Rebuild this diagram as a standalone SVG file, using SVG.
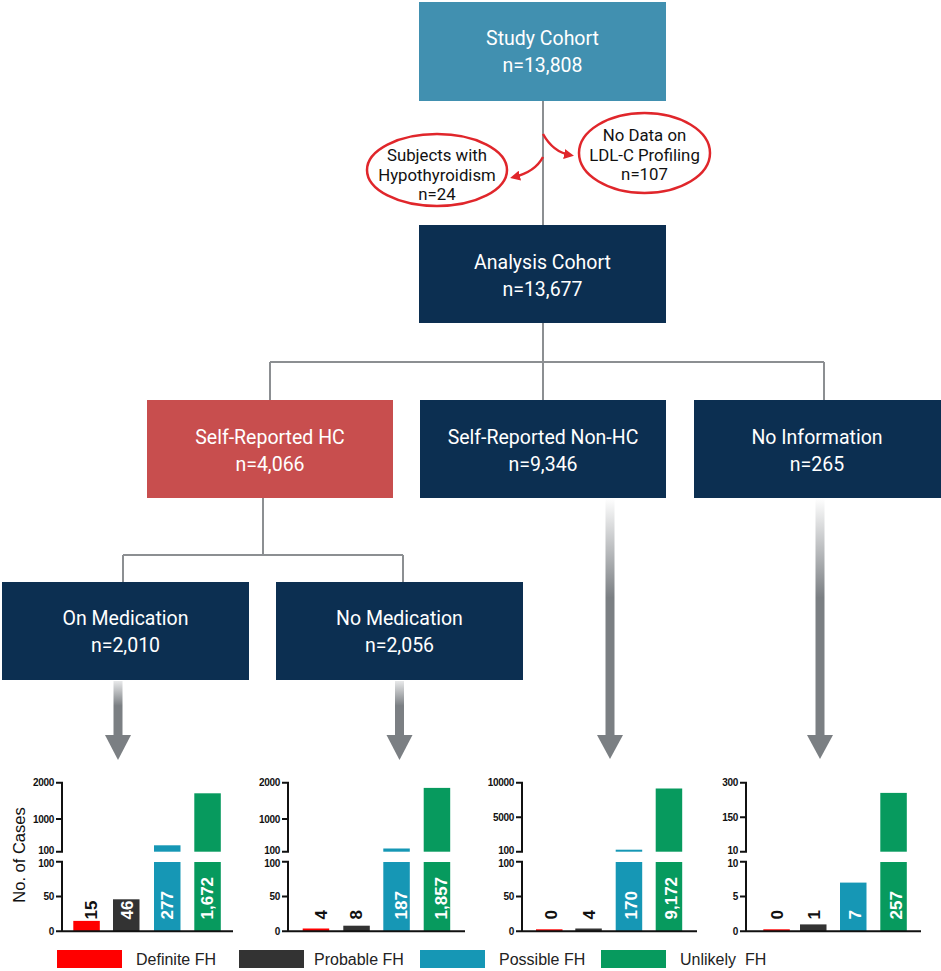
<svg xmlns="http://www.w3.org/2000/svg" width="941" height="971" viewBox="0 0 941 971">
<defs>
<style>
.box text{font-family:Roboto,"Liberation Sans",sans-serif;font-size:19.5px;fill:#fff;text-anchor:middle}
.ell text{font-family:Roboto,"Liberation Sans",sans-serif;font-size:16.8px;fill:#111;text-anchor:middle}
.ell ellipse{fill:#fff;stroke:#e0262b;stroke-width:2.5}
.conn{fill:none;stroke:#8c8f92;stroke-width:2}
.red-arrow{fill:none;stroke:#e0262b;stroke-width:2.5}
.head{fill:#7b7f83}
.ax{stroke:#111;stroke-width:2;fill:none}
.tk{font-family:"Liberation Sans",Arial,sans-serif;font-size:10px;font-weight:bold;fill:#111;text-anchor:end;letter-spacing:-0.3px}
.bl{font-family:"Liberation Sans",Arial,sans-serif;font-size:17px;font-weight:bold}
.w{fill:#fff}.k{fill:#111}
.cR{fill:#ff0000}.cK{fill:#333333}.cT{fill:#1697b5}.cG{fill:#079a5e}
.lg{font-family:"Liberation Sans",Arial,sans-serif;font-size:16px;fill:#222}
.navy{fill:#0c2f51}
</style>
<linearGradient id="gLong" x1="0" y1="0" x2="0" y2="1">
<stop offset="0" stop-color="#ffffff"/>
<stop offset="0.42" stop-color="#7b7f83"/>
<stop offset="1" stop-color="#7b7f83"/>
</linearGradient>
<linearGradient id="gShort" x1="0" y1="0" x2="0" y2="1">
<stop offset="0" stop-color="#e8e9ea"/>
<stop offset="0.45" stop-color="#7b7f83"/>
<stop offset="1" stop-color="#7b7f83"/>
</linearGradient>
<marker id="rh" markerWidth="10" markerHeight="10" refX="6" refY="5" orient="auto" markerUnits="userSpaceOnUse" viewBox="0 0 10 10">
<path d="M0,0 L10,5 L0,10 Z" fill="#e0262b"/>
</marker>
</defs>
<rect width="941" height="971" fill="#fff"/>

<g id="connectors">
<path class="conn" d="M543,101 V225"/>
<path class="conn" d="M543,323 V362 M270,362 H824 M270,362 V400 M543,362 V400 M824,362 V400"/>
<path class="conn" d="M263,498 V555 M123,555 H403 M123,555 V583 M403,555 V583"/>
<path class="red-arrow" d="M543,134 Q553,152 570,155" marker-end="url(#rh)"/>
<path class="red-arrow" d="M543,157 Q535,172 514,177" marker-end="url(#rh)"/>
<rect x="605.5" y="498" width="9" height="237" fill="url(#gLong)"/>
<polygon class="head" points="597,735 623,735 610,759"/>
<rect x="815.5" y="498" width="9" height="237" fill="url(#gLong)"/>
<polygon class="head" points="807,735 833,735 820,759"/>
<rect x="113.5" y="681" width="9" height="55" fill="url(#gShort)"/>
<polygon class="head" points="105,735 131,735 118,760"/>
<rect x="395" y="681" width="9" height="55" fill="url(#gShort)"/>
<polygon class="head" points="386.5,735 412.5,735 399.5,760"/>
</g>

<g id="study" class="box"><rect x="419" y="2" width="247" height="99" fill="#4190b0"/><text x="542.5" y="45">Study Cohort</text><text x="542.5" y="72">n=13,808</text></g>
<g id="hypo" class="ell"><ellipse cx="437" cy="170" rx="70" ry="36"/><text x="437" y="161">Subjects with</text><text x="437" y="180.5">Hypothyroidism</text><text x="437" y="200">n=24</text></g>
<g id="nodata" class="ell"><ellipse cx="644.5" cy="153" rx="65.5" ry="40"/><text x="644.5" y="141">No Data on</text><text x="644.5" y="160.5">LDL-C Profiling</text><text x="644.5" y="180">n=107</text></g>
<g id="analysis" class="box"><rect x="419" y="225" width="247" height="98" class="navy"/><text x="542.5" y="268.5">Analysis Cohort</text><text x="542.5" y="295.5">n=13,677</text></g>
<g id="hc" class="box"><rect x="147" y="400" width="246" height="98" fill="#c84e4e"/><text x="270" y="443.5">Self-Reported HC</text><text x="270" y="470.5">n=4,066</text></g>
<g id="nonhc" class="box"><rect x="420" y="400" width="246" height="98" class="navy"/><text x="543" y="443.5">Self-Reported Non-HC</text><text x="543" y="470.5">n=9,346</text></g>
<g id="noinfo" class="box"><rect x="694" y="400" width="247" height="98" class="navy"/><text x="817" y="443.5">No Information</text><text x="817" y="470.5">n=265</text></g>
<g id="onmed" class="box"><rect x="2" y="582" width="247" height="98" class="navy"/><text x="125.5" y="625">On Medication</text><text x="125.5" y="652">n=2,010</text></g>
<g id="nomed" class="box"><rect x="276" y="582" width="247" height="98" class="navy"/><text x="399.5" y="625">No Medication</text><text x="399.5" y="652">n=2,056</text></g>

<g id="chart1">
<text transform="translate(25,855) rotate(-90)" text-anchor="middle" font-family="'Liberation Sans',Arial,sans-serif" font-size="16.5" fill="#111">No. of Cases</text>
<rect class="cR" x="73.3" y="920.9" width="26.5" height="10.4"/>
<rect class="cK" x="113" y="899.3" width="26.5" height="32"/>
<rect class="cT" x="154" y="862" width="26.5" height="69.3"/>
<rect class="cT" x="154" y="845.3" width="26.5" height="6.4"/>
<rect class="cG" x="194.3" y="862" width="26.5" height="69.3"/>
<rect class="cG" x="194.3" y="793.3" width="26.5" height="58.4"/>
<path class="ax" d="M56,782.7 H62 V851.7 H56 M56,861.7 H62 V931.3 M56,819 H62 M56,896.5 H62 M56,931.3 H233"/>
<text class="tk" x="54" y="786.2">2000</text><text class="tk" x="54" y="822.5">1000</text><text class="tk" x="54" y="854">100</text>
<text class="tk" x="54" y="866.5">100</text><text class="tk" x="54" y="900">50</text><text class="tk" x="54" y="934.8">0</text>
<text class="bl k" transform="translate(96.7,919.5) rotate(-90)">15</text>
<text class="bl w" transform="translate(133.3,919.5) rotate(-90)">46</text>
<text class="bl w" transform="translate(173,919.5) rotate(-90)">277</text>
<text class="bl w" transform="translate(213.3,919.5) rotate(-90)">1,672</text>
</g>

<g id="chart2">
<rect class="cR" x="302.7" y="928.5" width="26.5" height="2.8"/>
<rect class="cK" x="343.3" y="925.7" width="26.5" height="5.6"/>
<rect class="cT" x="383.3" y="862" width="26.5" height="69.3"/>
<rect class="cT" x="383.3" y="848.5" width="26.5" height="3.2"/>
<rect class="cG" x="423.7" y="862" width="26.5" height="69.3"/>
<rect class="cG" x="423.7" y="787.9" width="26.5" height="63.8"/>
<path class="ax" d="M282,782.7 H288 V851.7 H282 M282,861.7 H288 V931.3 M282,819 H288 M282,896.5 H288 M282,931.3 H465"/>
<text class="tk" x="280" y="786.2">2000</text><text class="tk" x="280" y="822.5">1000</text><text class="tk" x="280" y="854">100</text>
<text class="tk" x="280" y="866.5">100</text><text class="tk" x="280" y="900">50</text><text class="tk" x="280" y="934.8">0</text>
<text class="bl k" transform="translate(326.7,919.5) rotate(-90)">4</text>
<text class="bl k" transform="translate(361.7,919.5) rotate(-90)">8</text>
<text class="bl w" transform="translate(406.7,919.5) rotate(-90)">187</text>
<text class="bl w" transform="translate(446.7,919.5) rotate(-90)">1,857</text>
</g>

<g id="chart3">
<rect class="cR" x="536" y="929.3" width="26.5" height="2"/>
<rect class="cK" x="575.3" y="928.5" width="26.5" height="2.8"/>
<rect class="cT" x="615.7" y="862" width="26.5" height="69.3"/>
<rect class="cT" x="615.7" y="849.7" width="26.5" height="2"/>
<rect class="cG" x="655.7" y="862" width="26.5" height="69.3"/>
<rect class="cG" x="655.7" y="788.5" width="26.5" height="63.2"/>
<path class="ax" d="M516,782.7 H522 V851.7 H516 M516,861.7 H522 V931.3 M516,817.3 H522 M516,896.5 H522 M516,931.3 H697"/>
<text class="tk" x="514" y="786.2">10000</text><text class="tk" x="514" y="820.8">5000</text><text class="tk" x="514" y="854">100</text>
<text class="tk" x="514" y="866.5">100</text><text class="tk" x="514" y="900">50</text><text class="tk" x="514" y="934.8">0</text>
<text class="bl k" transform="translate(556.7,919.5) rotate(-90)">0</text>
<text class="bl k" transform="translate(595,919.5) rotate(-90)">4</text>
<text class="bl w" transform="translate(636.7,919.5) rotate(-90)">170</text>
<text class="bl w" transform="translate(676.7,919.5) rotate(-90)">9,172</text>
</g>

<g id="chart4">
<rect class="cR" x="763.3" y="929.3" width="26.5" height="2"/>
<rect class="cK" x="800" y="924.4" width="26.5" height="6.9"/>
<rect class="cT" x="840" y="882.6" width="26.5" height="48.7"/>
<rect class="cG" x="880.3" y="862" width="26.5" height="69.3"/>
<rect class="cG" x="880.3" y="792.9" width="26.5" height="58.8"/>
<path class="ax" d="M740,782.7 H746 V851.7 H740 M740,861.7 H746 V931.3 M740,817.3 H746 M740,896.5 H746 M740,931.3 H921"/>
<text class="tk" x="738" y="786.2">300</text><text class="tk" x="738" y="820.8">150</text><text class="tk" x="738" y="854">10</text>
<text class="tk" x="738" y="866.5">10</text><text class="tk" x="738" y="900">5</text><text class="tk" x="738" y="934.8">0</text>
<text class="bl k" transform="translate(783,919.5) rotate(-90)">0</text>
<text class="bl k" transform="translate(820,919.5) rotate(-90)">1</text>
<text class="bl w" transform="translate(861,919.5) rotate(-90)">7</text>
<text class="bl w" transform="translate(901.7,919.5) rotate(-90)">257</text>
</g>

<g id="legend">
<rect class="cR" x="57" y="950" width="65" height="18"/><text class="lg" x="136" y="965">Definite FH</text>
<rect class="cK" x="239" y="950" width="65" height="18"/><text class="lg" x="314" y="965">Probable FH</text>
<rect class="cT" x="420" y="950" width="65" height="18"/><text class="lg" x="499" y="965">Possible FH</text>
<rect class="cG" x="601" y="950" width="65" height="18"/><text class="lg" x="680" y="965" xml:space="preserve">Unlikely  FH</text>
</g>
</svg>
